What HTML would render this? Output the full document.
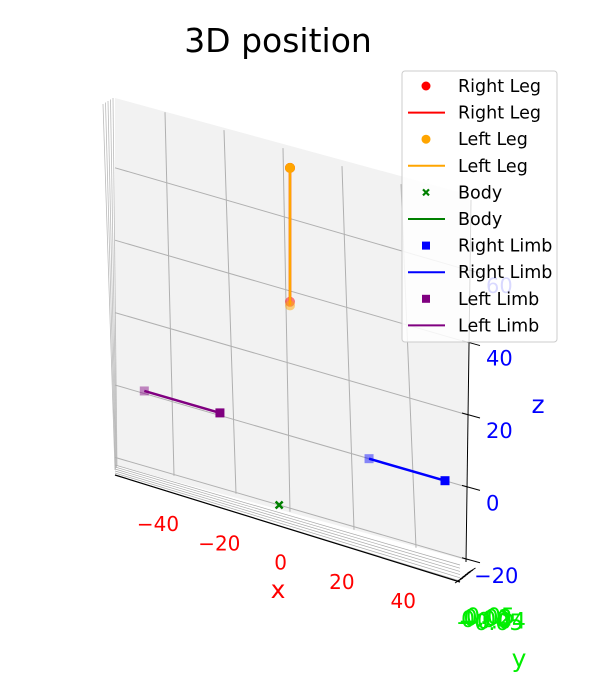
<!DOCTYPE html>
<html><head><meta charset="utf-8"><style>
body{margin:0;background:#fff;}
svg{display:block;font-family:"DejaVu Sans","Liberation Sans",sans-serif;}
</style></head><body>
<svg id="chart" width="603" height="688" viewBox="0 0 603 688">
<rect width="603" height="688" fill="#fff"/>
<text x="278" y="52" font-size="33" text-anchor="middle">3D position</text>
<g id="pane"></g>
<g id="grid"></g>
<g id="marks"></g>
<g id="axes"></g>
<g id="legend"></g>
</svg>
<script>
const xTicks=[-40,-20,0,20,40];
const zTicks=[-20,0,20,40,60];
const yTickLabels=["-0.05","-0.04","0.00","0.02","0.05"];
const rightLegX=[0,0], rightLegZ=[74,37];
const leftLegX=[0,0], leftLegZ=[74,36];
const bodyX=[-3.5], bodyZ=[-20];
const rightLimbX=[25.5,50], rightLimbZ=[0,0];
const leftLimbX=[-47,-22.6], leftLimbZ=[0.7,0.7];

const NS="http://www.w3.org/2000/svg";
function sx(x){return 290+x*3.1;}
function sy(x,z){return 385-3.62*z+0.29*(sx(x)-115);}
function el(tag,attrs,parent,text){const e=document.createElementNS(NS,tag);for(const k in attrs)e.setAttribute(k,attrs[k]);if(text!==undefined)e.textContent=text;parent.appendChild(e);return e;}
const pane=document.getElementById('pane'),grid=document.getElementById('grid'),marks=document.getElementById('marks'),axes=document.getElementById('axes'),legend=document.getElementById('legend');

let p=el('polygon',{points:"115,98 470,195 465,560 115,465",fill:"#f2f2f2",stroke:"none"},pane);


for(let i=0;i<5;i++){let l=el('line',{x1:103+i*2.5,y1:104-i*1.5,x2:115+i*0.5,y2:470-i,stroke:"#bbb","stroke-width":0.8},pane);

}
for(let i=0;i<6;i++){let l=el('line',{x1:115,y1:465+i*2,x2:460,y2:565+i*3.2,stroke:"#aaa","stroke-width":0.7},pane);

}

xTicks.forEach(x=>{let l=el('line',{x1:sx(x)-x*0.15-7,y1:sy(x,80)+2,x2:sx(x)+(x<0?8:0)+(x>0?2:0),y2:sy(x,-21),stroke:"#b0b0b0","stroke-width":1},grid);

});
zTicks.forEach(z=>{let l=el('line',{x1:115,y1:385-3.62*z,x2:468,y2:385-3.62*z+0.29*353,stroke:"#b0b0b0","stroke-width":1},grid);

});

let ax=el('line',{x1:115,y1:475,x2:460,y2:582,stroke:"#000","stroke-width":1.2},axes);


let az=el('line',{x1:471,y1:200,x2:466,y2:562,stroke:"#000","stroke-width":1},axes);


xTicks.forEach((x,i)=>{let t=el('text',{x:158+i*61.3, y:531+i*19.3,fill:"red","font-size":20,"text-anchor":"middle"},axes,String(x).replace('-','\u2212'));

});
zTicks.forEach(z=>{const y=385-3.62*z+0.29*353;
let tk=el('line',{x1:462,y1:y-2,x2:480,y2:y+3,stroke:"#000","stroke-width":1},axes);


let t=el('text',{x:z<0?474:486,y:y+23,fill:"blue","font-size":21},axes,String(z).replace('-','\u2212'));

});
for(let i=0;i<6;i++){let tk=el('line',{x1:455+i*2.5,y1:583-i*2,x2:463+i*2.5,y2:578-i*2,stroke:"#000","stroke-width":1},axes);

}
yTickLabels.forEach((s,i)=>{let t=el('text',{x:456+i*2.5,y:630-i*1.5,fill:"#00ee00","font-size":22},axes,s.replace('-','\u2212'));

});
let xl=el('text',{x:278,y:598,fill:"red","font-size":25,"text-anchor":"middle"},axes,"x");

let yl=el('text',{x:519,y:667,fill:"#00ee00","font-size":25,"text-anchor":"middle"},axes,"y");

let zl=el('text',{x:538,y:413,fill:"blue","font-size":25,"text-anchor":"middle"},axes,"z");


function line(xs,zs,color,name){let pts=xs.map((x,i)=>sx(x)+","+sy(x,zs[i])).join(" ");
let l=el('polyline',{points:pts,fill:"none",stroke:color,"stroke-width":2.5},marks);
}
function dots(xs,zs,color,name,shape){xs.forEach((x,i)=>{const X=sx(x),Y=sy(x,zs[i]);const op=i==0&&shape=='s'?0.45:(i==1&&shape=='c'?0.5:1);let m;
if(shape=='c')m=el('circle',{cx:X,cy:Y,r:5,fill:color,opacity:op},marks);
else if(shape=='s')m=el('rect',{x:X-4.5,y:Y-4.5,width:9,height:9,fill:color,opacity:op},marks);
else m=el('path',{d:`M${X-3.5} ${Y-3.5}L${X+3.5} ${Y+3.5}M${X+3.5} ${Y-3.5}L${X-3.5} ${Y+3.5}`,stroke:color,"stroke-width":2.5},marks);
});}
dots(rightLegX,rightLegZ,"red","right-leg-point",'c');
line(rightLegX,rightLegZ,"red","right-leg-line");
line(leftLegX,leftLegZ,"orange","left-leg-line");
dots(leftLegX,leftLegZ,"orange","left-leg-point",'c');
dots(bodyX,bodyZ,"green","body-point",'x');
line(rightLimbX,rightLimbZ,"blue","right-limb-line");
dots(rightLimbX,rightLimbZ,"blue","right-limb-point",'s');
line(leftLimbX,leftLimbZ,"purple","left-limb-line");
dots(leftLimbX,leftLimbZ,"purple","left-limb-point",'s');

const legLabels=["Right Leg","Right Leg","Left Leg","Left Leg","Body","Body","Right Limb","Right Limb","Left Limb","Left Limb"];
const legColors=["red","red","orange","orange","green","green","blue","blue","purple","purple"];
const legTypes=["c","l","c","l","x","l","s","l","s","l"];
let box=el('rect',{x:402,y:71,width:155,height:271,rx:3,fill:"#fff","fill-opacity":0.85,stroke:"#ccc"},legend);

legLabels.forEach((s,i)=>{const y=86+i*26.6;const g=el('g',{},legend);

const c=legColors[i],t=legTypes[i];
if(t=='c')el('circle',{cx:426,cy:y,r:4.5,fill:c},g);
else if(t=='l')el('line',{x1:408,y1:y,x2:445,y2:y,stroke:c,"stroke-width":2},g);
else if(t=='s')el('rect',{x:422,y:y-4,width:8,height:8,fill:c},g);
else el('path',{d:`M${423} ${y-3}L${429} ${y+3}M${429} ${y-3}L${423} ${y+3}`,stroke:c,"stroke-width":2.2},g);
el('text',{x:458,y:y+6,"font-size":17.5},g,s);});
</script>
</body></html>
